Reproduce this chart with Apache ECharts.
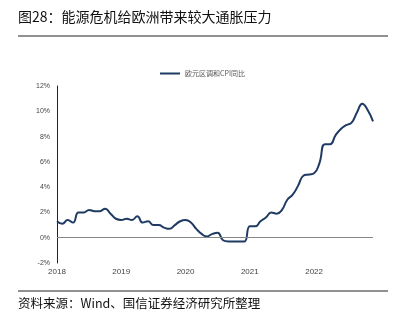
<!DOCTYPE html>
<html><head><meta charset="utf-8">
<script src="https://cdn.jsdelivr.net/npm/echarts@6/dist/echarts.min.js"></script>
<style>html,body{margin:0;padding:0;background:#fff}#c{width:408px;height:328px}</style>
</head><body><div id="c"></div>
<script>
const months = [];
for (let y = 2018; y <= 2022; y++) for (let m = 1; m <= 12; m++) months.push(y + '-' + (m < 10 ? '0' + m : m));
const hicp = [
  1.3, 1.1, 1.4, 1.2, 2.0, 2.0, 2.2, 2.1, 2.1, 2.3, 1.9, 1.5,
  1.4, 1.5, 1.4, 1.7, 1.2, 1.3, 1.0, 1.0, 0.8, 0.7, 1.0, 1.3,
  1.4, 1.2, 0.7, 0.3, 0.1, 0.3, 0.4, -0.2, -0.3, -0.3, -0.3, -0.3,
  0.9, 0.9, 1.3, 1.6, 2.0, 1.9, 2.2, 3.0, 3.4, 4.1, 4.9, 5.0,
  5.1, 5.9, 7.4, 7.4, 8.1, 8.6, 8.9, 9.1, 9.9, 10.6, 10.1, 9.2
];
const seriesName = '欧元区调和CPI同比';
const title = '图28：能源危机给欧洲带来较大通胀压力';
const source = '资料来源：Wind、国信证券经济研究所整理';

const chart = echarts.init(document.getElementById('c'));
const cjk = '"Noto Sans CJK SC", sans-serif';
chart.setOption({
  animation: false,
  textStyle: { fontFamily: cjk },
  graphic: [
    { type: 'text', left: 18, top: 10, style: { text: title, font: '14px ' + cjk, fill: '#111' } },
    { type: 'line', shape: { x1: 18, y1: 36, x2: 388, y2: 36 }, style: { stroke: '#222', lineWidth: 1 } },
    { type: 'line', shape: { x1: 18, y1: 291, x2: 388, y2: 291 }, style: { stroke: '#222', lineWidth: 1 } },
    { type: 'text', left: 18, top: 297, style: { text: source, font: '12.5px ' + cjk, fill: '#111' } }
  ],
  legend: {
    top: 65, left: 155, itemWidth: 20, itemHeight: 2, itemGap: 4,
    textStyle: { fontSize: 7, color: '#555' },
    data: [{ name: seriesName, icon: 'path://M0,0L20,0L20,2L0,2Z' }]
  },
  grid: { left: 57, right: 35, top: 86, bottom: 65 },
  xAxis: {
    type: 'category', data: months, boundaryGap: false,
    axisLine: { show: false }, axisTick: { show: false },
    axisLabel: {
      color: '#444', fontSize: 8, fontFamily: 'Liberation Sans', margin: 5,
      interval: (i) => i % 12 === 0,
      formatter: (v) => v.slice(0, 4)
    }
  },
  yAxis: {
    type: 'value', min: -2, max: 12, interval: 2,
    axisLine: { show: true, lineStyle: { color: '#222', width: 1 } },
    axisTick: { show: false }, splitLine: { show: false },
    axisLabel: { color: '#444', fontSize: 7, fontFamily: 'Liberation Sans', margin: 7, formatter: '{value}%' }
  },
  series: [{
    name: seriesName, type: 'line', data: hicp, smooth: true, symbol: 'none',
    lineStyle: { color: '#1f3a63', width: 2 }, itemStyle: { color: '#1f3a63' },
    markLine: {
      silent: true, symbol: 'none', label: { show: false },
      lineStyle: { color: '#888', width: 1, type: 'solid' },
      data: [{ yAxis: 0 }]
    }
  }]
});
</script></body></html>
